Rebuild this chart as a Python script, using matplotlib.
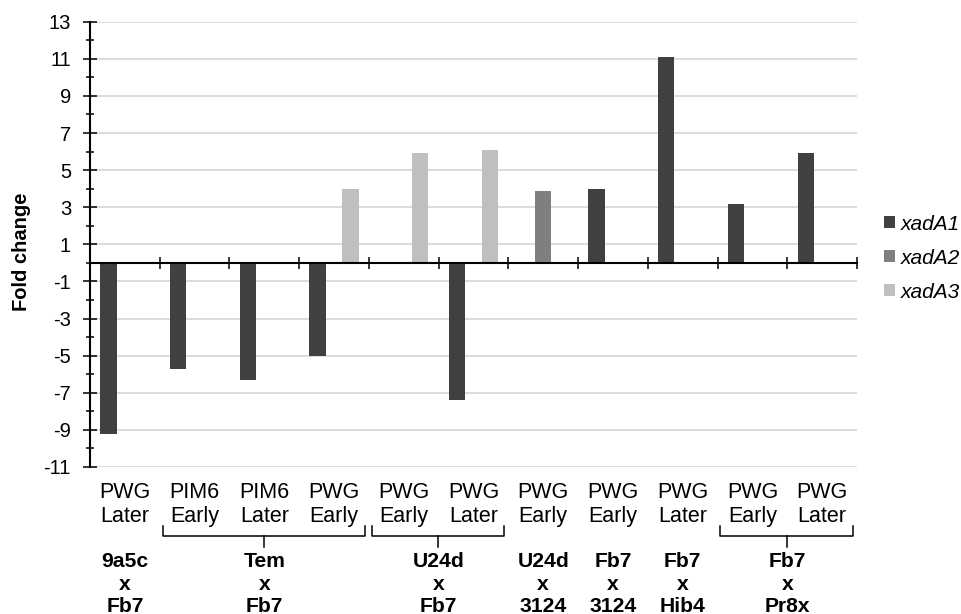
import matplotlib
matplotlib.use("Agg")
import matplotlib.pyplot as plt
import numpy as np
from matplotlib.transforms import blended_transform_factory

plt.rcParams["font.family"] = ["Liberation Sans", "DejaVu Sans"]
plt.rcParams["axes.unicode_minus"] = False

nan = np.nan
top_labels = ["PWG", "PIM6", "PIM6", "PWG", "PWG", "PWG", "PWG", "PWG", "PWG", "PWG", "PWG"]
stage_labels = ["Later", "Early", "Later", "Early", "Early", "Later", "Early", "Early", "Later", "Early", "Later"]
xadA1 = [-9.2, -5.7, -6.3, -5.0, nan, -7.4, nan, 4.0, 11.1, 3.2, 5.9]
xadA2 = [nan, nan, nan, nan, nan, nan, 3.9, nan, nan, nan, nan]
xadA3 = [nan, nan, nan, 4.0, 5.9, 6.1, nan, nan, nan, nan, nan]
series_names = ["xadA1", "xadA2", "xadA3"]
# crosses: (label, first category, last category)
groups = [
    ("9a5c\nx\nFb7", 0, 0),
    ("Tem\nx\nFb7", 1, 3),
    ("U24d\nx\nFb7", 4, 5),
    ("U24d\nx\n3124", 6, 6),
    ("Fb7\nx\n3124", 7, 7),
    ("Fb7\nx\nHib4", 8, 8),
    ("Fb7\nx\nPr8x", 9, 10),
]

colors = ["#404040", "#7f7f7f", "#bfbfbf"]

fig = plt.figure(figsize=(9.62, 6.14), dpi=100)
ax = fig.add_axes([90 / 962, 1 - 467 / 614, (857 - 90) / 962, (467 - 21.7) / 614])

x = np.arange(len(top_labels))
w = 0.235
for i, (vals, name) in enumerate(zip([xadA1, xadA2, xadA3], series_names)):
    ax.bar(x + (i - 1) * w, vals, width=w, color=colors[i], label=name, zorder=3)

ax.set_xlim(-0.5, len(top_labels) - 0.5)
ax.set_ylim(-11, 13)
ax.set_yticks(np.arange(-11, 14, 2))
ax.set_yticks(np.arange(-10, 13, 2), minor=True)
ax.grid(axis="y", which="major", color="#d9d9d9", linewidth=1.3, zorder=0)
ax.tick_params(axis="y", which="major", direction="inout", length=9.4, width=1.1,
               labelsize=14.5, pad=9)
ax.tick_params(axis="y", which="minor", direction="inout", length=5.8, width=1.1)

ax.set_xticks(np.arange(-0.5, len(top_labels), 1.0))
ax.tick_params(axis="x", direction="inout", length=8.6, width=1.1, labelbottom=False)

for s in ["top", "right"]:
    ax.spines[s].set_visible(False)
ax.spines["bottom"].set_position(("data", 0))
ax.spines["bottom"].set_linewidth(1.5)
ax.spines["left"].set_linewidth(1.5)
ax.spines["bottom"].set_zorder(4)

tr = blended_transform_factory(ax.transData, ax.transAxes)
px = 1 / 445.3
for xi, a, b in zip(x, top_labels, stage_labels):
    ax.text(xi, -15 * px, a + "\n" + b, transform=tr, ha="center", va="top",
            fontsize=15.5, linespacing=1.18)

for label, first, last in groups:
    xc = (first + last) / 2
    ax.text(xc, -85 * px, label, transform=tr, ha="center", va="top",
            fontsize=15.2, fontweight="bold", linespacing=1.25, clip_on=False)
    if last > first:
        x0, x1 = first - 0.46, last + 0.44
        yt, ym, yb = -59 * px, -69 * px, -80 * px
        ax.plot([x0, x0, x1, x1], [yt, ym, ym, yt], transform=tr, color="black",
                linewidth=1.1, clip_on=False, solid_joinstyle="round")
        ax.plot([(x0 + x1) / 2] * 2, [ym, yb], transform=tr, color="black",
                linewidth=1.1, clip_on=False)

fig.text(22 / 962, 1 - 252 / 614, "Fold change", rotation=90, ha="center", va="center",
         fontsize=14.5, fontweight="bold")

leg = ax.legend(loc="center left", bbox_to_anchor=(884 / 962, 1 - 258 / 614),
                bbox_transform=fig.transFigure, frameon=False, fontsize=15,
                handlelength=0.55, handleheight=0.55, handletextpad=0.25,
                labelspacing=0.72, borderpad=0, borderaxespad=0)
for t in leg.get_texts():
    t.set_fontstyle("italic")

fig.savefig("out.png", dpi=100, facecolor="white")
